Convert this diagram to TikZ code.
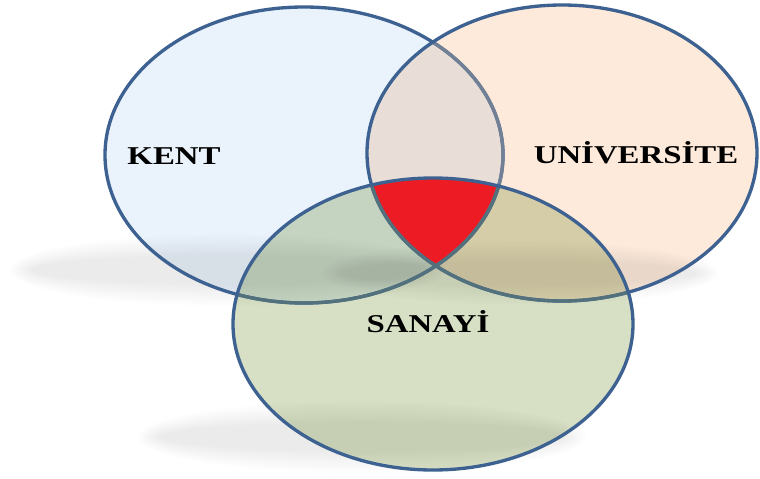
\documentclass[tikz,border=0pt]{standalone}
\usepackage{fontspec}
\setmainfont{Liberation Serif}
\definecolor{kentfill}{HTML}{EAF2FB}
\definecolor{unifill}{HTML}{FDEADB}
\definecolor{sanfill}{HTML}{D7E0C4}
\definecolor{rimblue}{HTML}{3D6291}
\definecolor{rimgrey}{HTML}{728095}
\definecolor{rimteal}{HTML}{52717C}
\definecolor{corered}{HTML}{ED1C24}
\def\kentpath{(304,155) ellipse [x radius=199, y radius=148]}
\def\unipath{(562,153) ellipse [x radius=195, y radius=148]}
\def\sanpath{(433,324) ellipse [x radius=200, y radius=146]}
\newcommand\vennlabel[1]{\scalebox{1.28}[1]{\fontsize{21.9}{26}\selectfont\bfseries #1}}
\tikzset{
  rim/.style={line width=0.1cm,draw=rimblue},
  haze/.style={fill=black,fill opacity=0.009},
  vlabel/.style={anchor=base,inner sep=0pt}
}
\begin{document}
\begin{tikzpicture}[x=0.03cm,y=-0.03cm]
\useasboundingbox (0,0) rectangle (760,479);
\begin{scope}[blend group=multiply]
  \foreach \i in {0,...,9}{
    \fill[haze] (228,270) ellipse [x radius=218-2.4*\i, y radius=36-2.4*\i];
    \fill[haze] (520,273) ellipse [x radius=198-2.4*\i, y radius=32-2.2*\i];
    \fill[haze] (362,437) ellipse [x radius=224-2.4*\i, y radius=36-2.4*\i];
  }
  \fill[kentfill] \kentpath;
  \fill[unifill] \unipath;
  \fill[sanfill] \sanpath;
\end{scope}
\begin{scope}
  \clip \kentpath;
  \clip \unipath;
  \fill[corered] \sanpath;
\end{scope}
\draw[rim] \kentpath;
\begin{scope}
  \clip \unipath;
  \draw[rim,draw=rimgrey] \kentpath;
\end{scope}
\draw[rim] \unipath;
\begin{scope}
  \clip \sanpath;
  \draw[rim,draw=rimteal] \kentpath;
  \draw[rim,draw=rimteal] \unipath;
\end{scope}
\draw[rim] \sanpath;
\node[vlabel] (kent) at (174,164) {\vennlabel{KENT}};
\node[vlabel] (uni) at (636,163) {\vennlabel{UNİVERSİTE}};
\node[vlabel] (sanayi) at (428,332) {\vennlabel{SANAYİ}};
\end{tikzpicture}
\end{document}
